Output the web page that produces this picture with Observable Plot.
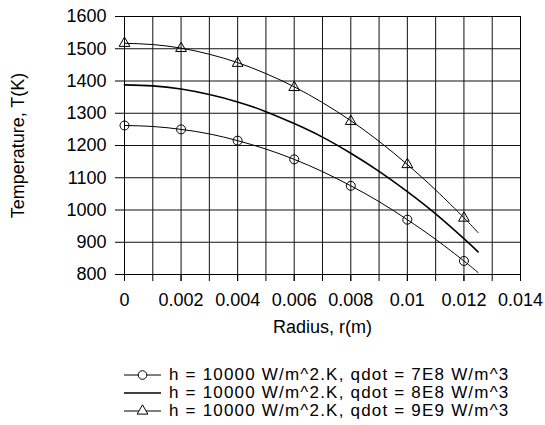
<!DOCTYPE html>
<html>
<head>
<meta charset="utf-8">
<script src="https://cdn.jsdelivr.net/npm/d3@7"></script>
<script src="https://cdn.jsdelivr.net/npm/@observablehq/plot@0.6"></script>
<style>
  html, body { margin: 0; padding: 0; background: white; }
  body { width: 545px; height: 425px; overflow: hidden; font-family: "Liberation Sans", Arial, sans-serif; }
  #legend { margin-top: 16px; margin-left: 124px; font-size: 17px; color: black; }
  .row { display: flex; align-items: center; height: 18px; white-space: nowrap; }
  .row svg { margin-right: 8px; flex: none; }
  .row span { display: inline-block; line-height: 18px; height: 18px; letter-spacing: 1.2px; }
</style>
</head>
<body>
<div id="chart"></div>
<div id="legend"></div>
<script>
// ---- data ----
const xTicks = [0, 0.002, 0.004, 0.006, 0.008, 0.01, 0.012, 0.014];
const xMinor = [0, 0.001, 0.002, 0.003, 0.004, 0.005, 0.006, 0.007, 0.008, 0.009, 0.01, 0.011, 0.012, 0.013, 0.014];
const yTicks = [800, 900, 1000, 1100, 1200, 1300, 1400, 1500, 1600];

// curve samples (radius, m)
const radius = [0, 0.001, 0.002, 0.003, 0.004, 0.005, 0.006, 0.007, 0.008, 0.009, 0.01, 0.011, 0.012, 0.0125];
const tempLow  = [1262, 1259, 1250, 1236, 1215, 1189, 1157, 1119, 1075, 1026, 970, 909, 842, 806];
const tempMid  = [1388, 1385, 1375, 1358, 1335, 1305, 1268, 1226, 1176, 1120, 1057, 988, 911, 870];
const tempHigh = [1517, 1513, 1502, 1483, 1457, 1423, 1382, 1333, 1277, 1213, 1141, 1062, 976, 930];

// marker positions
const markerRadius = [0, 0.002, 0.004, 0.006, 0.008, 0.01, 0.012];
const markerLow  = [1262, 1250, 1215, 1157, 1075, 970, 842];
const markerHigh = [1517, 1501, 1455, 1380, 1275, 1141, 975];

const seriesNames = [
  "h = 10000 W/m^2.K, qdot = 7E8 W/m^3",
  "h = 10000 W/m^2.K, qdot = 8E8 W/m^3",
  "h = 10000 W/m^2.K, qdot = 9E9 W/m^3"
];

// ---- build tables ----
const lineLow  = radius.map((r, i) => ({r, t: tempLow[i]}));
const lineMid  = radius.map((r, i) => ({r, t: tempMid[i]}));
const lineHigh = radius.map((r, i) => ({r, t: tempHigh[i]}));
const dotsLow  = markerRadius.map((r, i) => ({r, t: markerLow[i]}));
const dotsHigh = markerRadius.map((r, i) => ({r, t: markerHigh[i]}));

const fmt = d => String(+d.toFixed(3));
const FONT = "'Liberation Sans', Arial, sans-serif";

const chart = Plot.plot({
  width: 545,
  height: 350,
  marginLeft: 124,
  marginRight: 25,
  marginTop: 16,
  marginBottom: 76,
  style: {fontFamily: FONT, fontSize: "18px", color: "black", background: "white", overflow: "visible"},
  x: {domain: [0, 0.014]},
  y: {domain: [800, 1600]},
  marks: [
    Plot.gridX(xMinor, {stroke: "#111", strokeOpacity: 1, strokeWidth: 1}),
    Plot.gridY(yTicks, {stroke: "#111", strokeOpacity: 1, strokeWidth: 1}),
    Plot.frame({stroke: "black", strokeWidth: 1}),
    Plot.axisX(xMinor, {tickSize: 7, tickFormat: () => "", label: null, stroke: "black"}),
    Plot.axisX(xTicks, {tickSize: 7, tickPadding: 12, tickFormat: fmt, label: null, stroke: "black", fontSize: 18}),
    Plot.axisY(yTicks, {tickSize: 9, tickPadding: 9, tickFormat: d => String(d), label: null, stroke: "black", fontSize: 18}),
    Plot.line(lineLow, {x: "r", y: "t", curve: "natural", stroke: "black", strokeWidth: 1}),
    Plot.line(lineMid, {x: "r", y: "t", curve: "natural", stroke: "black", strokeWidth: 1.6}),
    Plot.line(lineHigh, {x: "r", y: "t", curve: "natural", stroke: "black", strokeWidth: 1}),
    Plot.dot(dotsLow, {x: "r", y: "t", r: 4.5, symbol: "circle", stroke: "black", fill: "none", strokeWidth: 1}),
    Plot.dot(dotsHigh, {x: "r", y: "t", r: 4, symbol: "triangle", stroke: "black", fill: "none", strokeWidth: 1}),
    Plot.text(["Radius, r(m)"], {text: d => d, frameAnchor: "bottom", dy: 58, fontSize: 18, fill: "black"}),
    Plot.text(["Temperature, T(K)"], {text: d => d, frameAnchor: "left", textAnchor: "middle", dx: -106, rotate: -90, fontSize: 18, fill: "black"})
  ]
});
document.getElementById("chart").appendChild(chart);

// ---- legend ----
const legend = d3.select("#legend");
const symbols = ["circle", null, "triangle"];
const widths = [1, 1.6, 1];
seriesNames.forEach((name, i) => {
  const row = legend.append("div").attr("class", "row");
  const svg = row.append("svg").attr("width", 37).attr("height", 18);
  svg.append("line").attr("x1", 0).attr("x2", 37).attr("y1", 9).attr("y2", 9)
     .attr("stroke", "black").attr("stroke-width", widths[i]);
  if (symbols[i]) {
    const sym = symbols[i] === "circle" ? d3.symbolCircle : d3.symbolTriangle;
    const size = symbols[i] === "circle" ? Math.PI * 4.3 * 4.3 : Math.PI * 4 * 4;
    svg.append("path").attr("d", d3.symbol(sym, size)()).attr("transform", "translate(18.5,9)")
       .attr("fill", "white").attr("stroke", "black");
  }
  row.append("span").text(name);
});
</script>
</body>
</html>
